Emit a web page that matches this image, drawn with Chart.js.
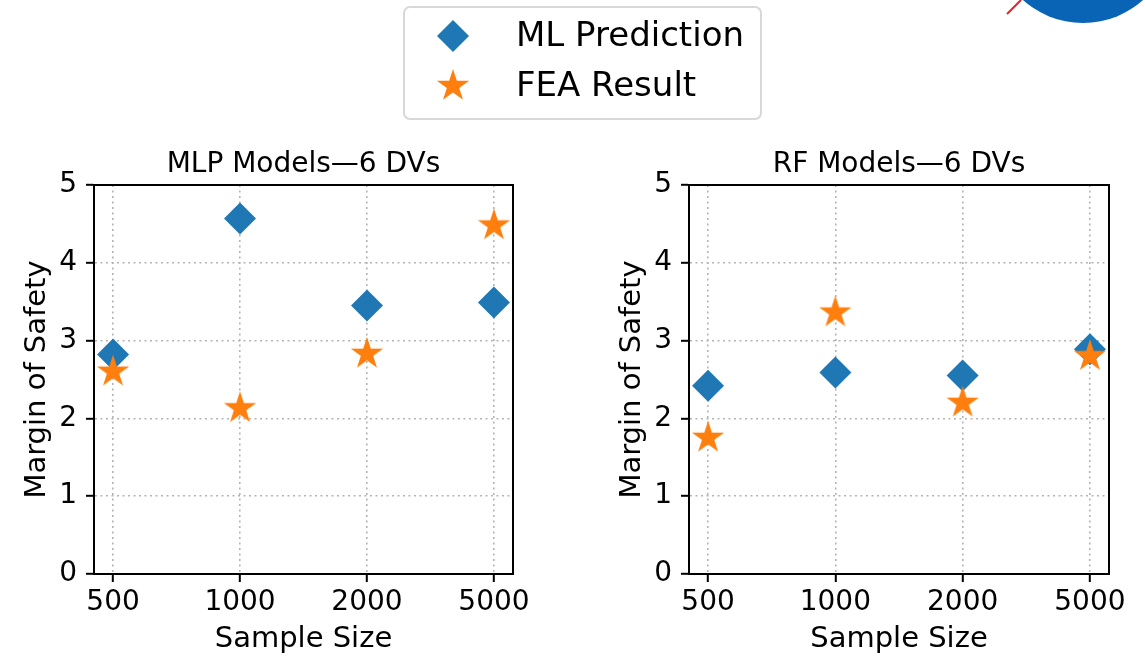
<!DOCTYPE html>
<html>
<head>
<meta charset="utf-8">
<script src="https://cdn.jsdelivr.net/npm/chart.js@4.4.0/dist/chart.umd.min.js"></script>
<style>
  html, body { margin: 0; padding: 0; background: #fff; }
  #wrap { position: relative; width: 1145px; height: 657px; overflow: hidden; }
  #wrap canvas { position: absolute; left: 0; top: 0; }
</style>
</head>
<body>
<div id="wrap">
  <canvas id="mlpChart" width="1145" height="657"></canvas>
  <canvas id="rfChart" width="1145" height="657"></canvas>
</div>
<script>
const sampleSizes = ["500", "1000", "2000", "5000"];
const yTicks = [0, 1, 2, 3, 4, 5];

const mlpPrediction = [2.82, 4.57, 3.45, 3.49];
const mlpFea = [2.60, 2.13, 2.83, 4.48];
const rfPrediction = [2.42, 2.59, 2.55, 2.89];
const rfFea = [1.75, 3.36, 2.20, 2.80];

const BLUE = "#1f77b4";
const ORANGE = "#ff7f0e";
const FONT = "DejaVu Sans";

// filled five-point star, used as an image pointStyle
function makeStar(radius, color) {
  const size = Math.ceil(radius * 2) + 2;
  const c = document.createElement("canvas");
  c.width = size;
  c.height = size;
  const ctx = c.getContext("2d");
  const inner = radius * 0.381966;
  ctx.beginPath();
  for (let i = 0; i < 10; i++) {
    const r = i % 2 ? inner : radius;
    const a = -Math.PI / 2 + (i * Math.PI) / 5;
    ctx.lineTo(size / 2 + r * Math.cos(a), size / 2 + r * Math.sin(a));
  }
  ctx.closePath();
  ctx.fillStyle = color;
  ctx.fill();
  return c;
}

const star = makeStar(17, ORANGE);
const toPoints = values => values.map((y, i) => ({ x: i, y }));

function makeDatasets(prediction, fea) {
  return [
    {
      label: "ML Prediction",
      data: toPoints(prediction),
      pointStyle: "rectRot",
      pointRadius: 16,
      backgroundColor: BLUE,
      borderColor: BLUE,
      borderWidth: 0,
      order: 2
    },
    {
      label: "FEA Result",
      data: toPoints(fea),
      pointStyle: star,
      pointRadius: 16,
      backgroundColor: ORANGE,
      borderColor: ORANGE,
      borderWidth: 0,
      order: 1
    }
  ];
}

// closed box around the plot area, drawn over the markers
const framePlugin = {
  id: "frame",
  afterDatasetsDraw(chart) {
    const { ctx, chartArea: a } = chart;
    ctx.save();
    ctx.strokeStyle = "#000";
    ctx.lineWidth = 2;
    ctx.strokeRect(a.left, a.top, a.right - a.left, a.bottom - a.top);
    ctx.restore();
  }
};

function drawMarker(ctx, style, color, x, y) {
  if (style instanceof HTMLCanvasElement) {
    ctx.drawImage(style, x - style.width / 2, y - style.height / 2);
    return;
  }
  const r = 16;
  ctx.beginPath();
  ctx.moveTo(x, y - r);
  ctx.lineTo(x + r, y);
  ctx.lineTo(x, y + r);
  ctx.lineTo(x - r, y);
  ctx.closePath();
  ctx.fillStyle = color;
  ctx.fill();
}

// shared legend box above both panels, plus the corner logo fragment
const figureLegendPlugin = {
  id: "figureLegend",
  afterDraw(chart) {
    const { ctx } = chart;
    ctx.save();
    ctx.beginPath();
    ctx.roundRect(404, 7, 357, 112, 6);
    ctx.fillStyle = "rgba(255,255,255,0.8)";
    ctx.fill();
    ctx.strokeStyle = "#d8d8d8";
    ctx.lineWidth = 2;
    ctx.stroke();

    const items = [...chart.data.datasets].sort((a, b) => b.order - a.order);
    items.forEach((ds, i) => {
      const y = 36 + i * 50;
      drawMarker(ctx, ds.pointStyle, ds.backgroundColor, 453, y);
      ctx.fillStyle = "#000";
      ctx.font = `34px "${FONT}"`;
      ctx.textBaseline = "middle";
      ctx.textAlign = "left";
      ctx.fillText(ds.label, 516, y + 1);
    });

    ctx.beginPath();
    ctx.arc(1083, -67, 90, 0, Math.PI * 2);
    ctx.fillStyle = "#0a64b6";
    ctx.fill();
    ctx.beginPath();
    ctx.moveTo(1007, 14);
    ctx.lineTo(1021, 0);
    ctx.strokeStyle = "#e8202a";
    ctx.lineWidth = 2;
    ctx.stroke();
    ctx.restore();
  }
};

function makeOptions(title, padLeft, padRight) {
  const tickFont = { family: FONT, size: 28 };
  const labelFont = { family: FONT, size: 29 };
  const grid = {
    color: "#b4b4b4",
    lineWidth: 1.6,
    tickLength: 8,
    tickColor: "#000",
    tickWidth: 2
  };
  const border = { color: "#000", width: 2, dash: [2, 3.5] };
  return {
    responsive: false,
    animation: false,
    devicePixelRatio: 1,
    layout: { padding: { left: padLeft, right: padRight, top: 0, bottom: 0 } },
    plugins: {
      legend: { display: false },
      tooltip: { enabled: false },
      title: {
        display: true,
        text: title,
        fullSize: false,
        color: "#000",
        font: { family: FONT, size: 28, weight: "normal" },
        padding: { top: 148, bottom: 3.4 }
      }
    },
    scales: {
      x: {
        type: "linear",
        min: -0.15,
        max: 3.15,
        afterBuildTicks: axis => {
          axis.ticks = sampleSizes.map((s, i) => ({ value: i }));
        },
        afterFit: axis => {
          axis.height = 83;
        },
        ticks: {
          callback: v => sampleSizes[v],
          color: "#000",
          font: tickFont,
          padding: 4,
          maxRotation: 0,
          autoSkip: false
        },
        grid,
        border,
        title: {
          display: true,
          text: "Sample Size",
          color: "#000",
          font: labelFont,
          padding: { top: 0, bottom: 0 }
        }
      },
      y: {
        min: 0,
        max: 5,
        afterBuildTicks: axis => {
          axis.ticks = yTicks.map(v => ({ value: v }));
        },
        afterFit: axis => {
          axis.width = 94;
        },
        ticks: { color: "#000", font: tickFont, padding: 9 },
        grid,
        border,
        title: {
          display: true,
          text: "Margin of Safety",
          color: "#000",
          font: labelFont,
          padding: { top: 20, bottom: 0 }
        }
      }
    }
  };
}

new Chart(document.getElementById("mlpChart"), {
  type: "scatter",
  data: { datasets: makeDatasets(mlpPrediction, mlpFea) },
  options: makeOptions("MLP Models\u20146 DVs", 0, 632),
  plugins: [framePlugin, figureLegendPlugin]
});

new Chart(document.getElementById("rfChart"), {
  type: "scatter",
  data: { datasets: makeDatasets(rfPrediction, rfFea) },
  options: makeOptions("RF Models\u20146 DVs", 595, 36),
  plugins: [framePlugin]
});
</script>
</body>
</html>
